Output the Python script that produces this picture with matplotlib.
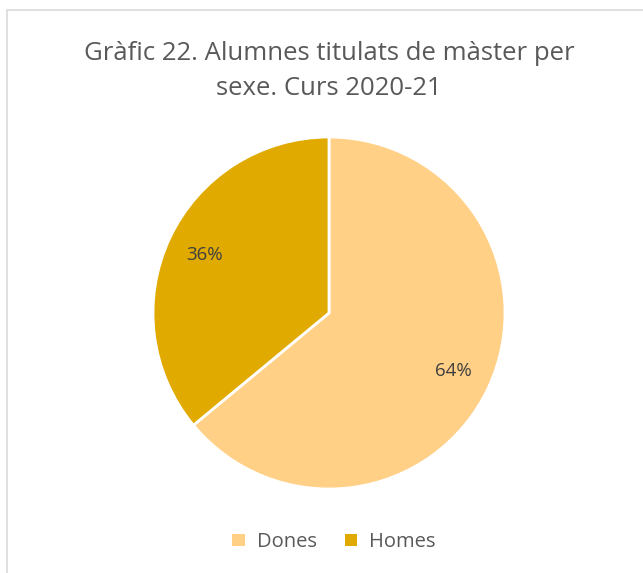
import matplotlib
matplotlib.use("Agg")
import matplotlib.pyplot as plt
from matplotlib.patches import Rectangle, Patch

labels = ["Dones", "Homes"]
values = [64, 36]
colors = ["#FFD086", "#E0AA00"]
title = "Gràfic 22. Alumnes titulats de màster per\nsexe. Curs 2020-21"

fig = plt.figure(figsize=(6.43, 5.73), dpi=100)
fig.patch.set_facecolor("white")
fig.patches.append(Rectangle((7/643, -0.1), 1.2, 1 - 10/573 + 0.1, transform=fig.transFigure,
                             fill=False, edgecolor="#D9D9D9", linewidth=1.2))

ax = fig.add_axes([(329-176)/643, (573-489)/573, 352/643, 352/573])
wedges, texts, autotexts = ax.pie(values, colors=colors, startangle=90, counterclock=False,
                                  autopct="%1.0f%%", pctdistance=0.78,
                                  wedgeprops=dict(edgecolor="white", linewidth=2),
                                  textprops=dict(color="#404040", fontsize=13.5, family="Open Sans"))
ax.set_xlim(-1.0, 1.0)
ax.set_ylim(-1.0, 1.0)
ax.set_aspect("equal")

fig.text(329/643, 1 - 71/573, title, ha="center", va="center", fontsize=18.5,
         color="#595959", family="Open Sans", linespacing=1.55)

handles = [Patch(facecolor=c, edgecolor="none") for c in colors]
fig.legend(handles, labels, loc="center", bbox_to_anchor=(334/643, 1 - 542/573), ncol=2,
           frameon=False, handlelength=0.6, handleheight=0.6, handletextpad=0.6,
           columnspacing=1.4, prop=dict(family="Open Sans", size=14.5), labelcolor="#595959")

fig.savefig("out.png", dpi=100)
